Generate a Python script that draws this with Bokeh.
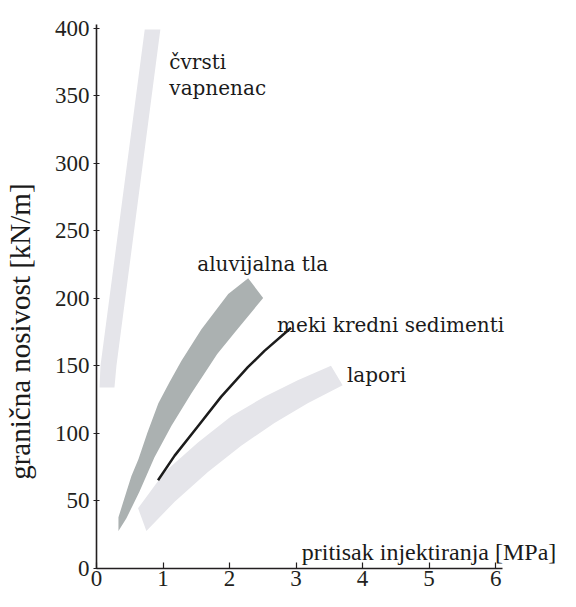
from bokeh.plotting import figure
from bokeh.models import Range1d, FixedTicker, ColumnDataSource
from bokeh.core.properties import value
from bokeh.embed import file_html
from bokeh.resources import INLINE

# ---- data ----
x_ticks = [0, 1, 2, 3, 4, 5, 6]
y_ticks = [0, 50, 100, 150, 200, 250, 300, 350, 400]

# čvrsti vapnenac band
vap_x = [0.045, 0.06, 0.725, 0.96, 0.30, 0.27]
vap_y = [134.1, 150.1, 399.3, 399.3, 150.1, 134.1]

# aluvijalna tla band (upper edge going up, then lower edge going down)
aluv_x = [0.33, 0.33, 0.39, 0.45, 0.525, 0.63, 0.765, 0.93, 1.095, 1.275,
          1.575, 1.98, 2.28,
          2.505, 2.115, 1.815, 1.425, 1.125, 0.87, 0.645, 0.45]
aluv_y = [27.7, 37.9, 47.4, 56.8, 68.5, 80.9, 100.5, 122.4, 137.7, 153.7,
          177.0, 203.3, 214.9,
          200.4, 177.0, 158.8, 129.7, 105.6, 82.3, 56.8, 37.2]

# lapori band
lap_x = [0.625, 1.025, 1.525, 2.025, 2.525, 3.025, 3.525,
         3.70, 3.175, 2.675, 2.175, 1.675, 1.175, 0.75]
lap_y = [44.7, 71.4, 93.3, 112.7, 127.3, 139.4, 150.1,
         135.7, 122.4, 107.8, 90.9, 71.4, 49.5, 27.7]

# meki kredni sedimenti curve
meki_x = [0.925, 1.175, 1.525, 1.875, 2.275, 2.525, 2.925]
meki_y = [65.4, 83.6, 105.4, 127.3, 149.1, 161.2, 178.3]

# curve labels
lab_text = ["čvrsti", "vapnenac", "aluvijalna tla", "meki kredni sedimenti", "lapori"]
lab_x = [1.095, 1.095, 1.515, 2.715, 3.765]
lab_y = [375.2, 355.6, 225.9, 180.7, 143.0]

# x-axis title (drawn inside the plot, above the axis, as in the reference)
x_title = ["pritisak injektiranja [MPa]"]
x_title_x = [3.085]
x_title_y = [11.9]

y_title = "granična nosivost [kN/m]"

LIGHT = "#e5e5ea"
DARK = "#abb1b1"
INK = "#231f20"
AXIS_FONT = "'Liberation Serif', 'Times New Roman', 'DejaVu Serif', serif"
TITLE_FONT = "Liberation Serif, serif"
LABEL_FONT = "DejaVu Serif"

p = figure(width=560, height=591, output_backend="svg", toolbar_location=None,
           x_range=Range1d(0, 6.975), y_range=Range1d(0, 420.7),
           min_border_left=95, min_border_right=0, min_border_top=0,
           min_border_bottom=23)
p.grid.visible = False
p.outline_line_color = None
p.background_fill_color = "white"
p.border_fill_color = "white"

p.patch(vap_x, vap_y, fill_color=LIGHT, line_color=None)
p.patch(aluv_x, aluv_y, fill_color=DARK, line_color=None)
p.patch(lap_x, lap_y, fill_color=LIGHT, line_color=None)
p.line(meki_x, meki_y, line_color="#1c1c1c", line_width=2.5)

for ax in (p.xaxis[0], p.yaxis[0]):
    ax.axis_line_color = INK
    ax.axis_line_width = 1.6
    ax.major_tick_line_color = INK
    ax.major_tick_line_width = 1.2
    ax.minor_tick_line_color = None
    ax.major_label_text_font = AXIS_FONT
    ax.major_label_text_font_size = "23px"
    ax.major_label_text_color = INK

p.xaxis.ticker = FixedTicker(ticks=x_ticks)
p.xaxis.bounds = (0, 6.1)
p.xaxis.major_tick_in = 6
p.xaxis.major_tick_out = 0
p.xaxis.major_label_standoff = 2

p.yaxis.ticker = FixedTicker(ticks=y_ticks)
p.yaxis.bounds = (0, 403)
p.yaxis.major_tick_in = 3
p.yaxis.major_tick_out = 3
p.yaxis.major_label_standoff = 4

# y-axis title, padded so that its centre sits lower, as in the reference
p.yaxis.axis_label = y_title + "\u00a0" * 13
p.yaxis.axis_label_text_font = AXIS_FONT
p.yaxis.axis_label_text_font_size = "29px"
p.yaxis.axis_label_text_font_style = "normal"
p.yaxis.axis_label_text_color = "#1a1a1a"
p.yaxis.axis_label_standoff = 16

src = ColumnDataSource(dict(x=lab_x, y=lab_y, t=lab_text))
p.text(x="x", y="y", text="t", source=src, text_font=value(LABEL_FONT),
       text_font_size=value("20px"), text_color="#1a1a1a",
       text_baseline="alphabetic", text_align="left")

src2 = ColumnDataSource(dict(x=x_title_x, y=x_title_y, t=x_title))
p.text(x="x", y="y", text="t", source=src2, text_font=value(TITLE_FONT),
       text_font_size=value("24px"), text_color="#1a1a1a",
       text_baseline="alphabetic", text_align="left")

open("out.html", "w").write(file_html(p, INLINE))
